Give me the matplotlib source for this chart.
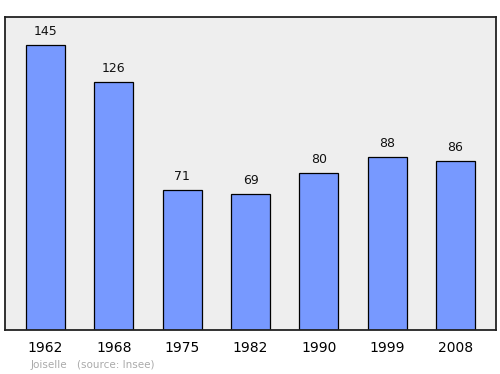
import matplotlib
matplotlib.use("Agg")
import matplotlib.pyplot as plt

years = ["1962", "1968", "1975", "1982", "1990", "1999", "2008"]
population = [145, 126, 71, 69, 80, 88, 86]

fig = plt.figure(figsize=(5.0, 3.74), dpi=100)
ax = fig.add_axes([0.01, 0.1176, 0.982, 0.837])
ax.set_facecolor("#eeeeee")

x = list(range(len(years)))
ax.bar(x, population, width=0.57, color="#7799ff", edgecolor="black", linewidth=0.9, zorder=2)
for xi, v in zip(x, population):
    ax.annotate(str(v), (xi, v), xytext=(0, 5), textcoords="offset points",
                ha="center", va="bottom", fontsize=9, color="#111111")

ax.set_xlim(-0.593, 6.593)
ax.set_ylim(0, 159.2)
ax.set_xticks(x)
ax.set_xticklabels(years, fontsize=10)
ax.tick_params(axis="x", length=0, pad=8)
ax.set_yticks([])
for s in ax.spines.values():
    s.set_linewidth(1.3)
    s.set_color("#222222")

fig.text(0.062, 0.012, "Joiselle", fontsize=7.5, color="#aaaaaa", ha="left", va="bottom")
fig.text(0.154, 0.012, "(source: Insee)", fontsize=7.5, color="#aaaaaa", ha="left", va="bottom")

fig.savefig("out.png", dpi=100, facecolor="white")
